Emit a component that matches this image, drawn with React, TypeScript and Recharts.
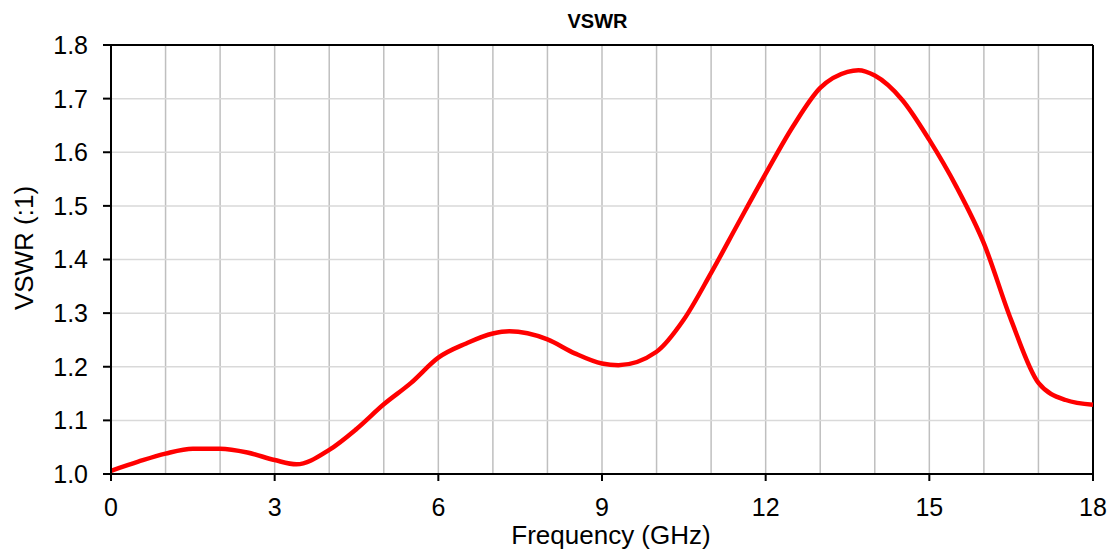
import React from "react";
import {
  LineChart,
  Line,
  XAxis,
  YAxis,
  CartesianGrid,
  ReferenceLine,
} from "recharts";

// frequency in GHz, VSWR
const freq = [
  0, 0.5, 1, 1.5, 2, 2.5, 3, 3.4, 4, 4.5, 5, 5.5, 6, 6.5, 7, 7.3, 8, 8.5, 9,
  9.3, 10, 10.5, 11, 11.5, 12, 12.5, 13, 13.5, 13.7, 14, 14.5, 15, 15.5, 16,
  16.5, 17, 17.5, 18,
];
const vswr = [
  1.006, 1.023, 1.038, 1.047, 1.047, 1.04, 1.026, 1.018, 1.045, 1.084, 1.13,
  1.17, 1.217, 1.243, 1.262, 1.266, 1.251, 1.225, 1.206, 1.203, 1.228, 1.288,
  1.375, 1.468, 1.56, 1.648, 1.72, 1.75, 1.753, 1.743, 1.698, 1.623, 1.535,
  1.43, 1.287, 1.17, 1.138, 1.129,
];

const xTicks = [0, 3, 6, 9, 12, 15, 18];
const xGrid = [0, 1, 2, 3, 4, 5, 6, 7, 8, 9, 10, 11, 12, 13, 14, 15, 16, 17, 18];
const yTicks = [1.0, 1.1, 1.2, 1.3, 1.4, 1.5, 1.6, 1.7, 1.8];

const data = freq.map((f, i) => ({ f, v: vswr[i] }));

const FONT = "'Liberation Sans', Arial, sans-serif";

export default function App() {
  return (
    <div style={{ position: "absolute", left: 0, top: 0, width: 1111, height: 550 }}>
      <div
        style={{
          position: "absolute",
          left: 0,
          top: 8,
          width: 1195,
          textAlign: "center",
          fontFamily: FONT,
          fontWeight: "bold",
          fontSize: 20,
          lineHeight: "26px",
        }}
      >
        VSWR
      </div>
      <LineChart
        width={1111}
        height={550}
        data={data}
        margin={{ top: 45, right: 18, bottom: 0, left: 0 }}
      >
        <XAxis xAxisId="grid" dataKey="f" type="number" domain={[0, 18]} ticks={xGrid} hide />
        <CartesianGrid
          xAxisId="grid"
          horizontal={false}
          stroke="#bfbfbf"
          strokeWidth={1.5}
          verticalValues={xGrid}
        />
        <CartesianGrid vertical={false} stroke="#d9d9d9" strokeWidth={1.5} />
        <XAxis
          dataKey="f"
          type="number"
          domain={[0, 18]}
          ticks={xTicks}
          height={76}
          tickSize={7}
          tickMargin={17}
          axisLine={{ stroke: "#000", strokeWidth: 2 }}
          tickLine={{ stroke: "#000", strokeWidth: 2 }}
          tick={{ fill: "#000", fontSize: 25, fontFamily: FONT }}
          label={{
            content: () => (
              <text
                x={611}
                y={544}
                textAnchor="middle"
                fontSize={26}
                fontFamily={FONT}
                fill="#000"
              >
                Frequency (GHz)
              </text>
            ),
          }}
        />
        <YAxis
          type="number"
          domain={[1.0, 1.8]}
          ticks={yTicks}
          width={111}
          tickSize={8}
          tickMargin={15}
          tickFormatter={(v: number) => v.toFixed(1)}
          axisLine={{ stroke: "#000", strokeWidth: 2 }}
          tickLine={{ stroke: "#000", strokeWidth: 2 }}
          tick={{ fill: "#000", fontSize: 25, fontFamily: FONT }}
          label={{
            content: () => (
              <text
                x={33}
                y={248}
                transform="rotate(-90 33 248)"
                textAnchor="middle"
                fontSize={26}
                fontFamily={FONT}
                fill="#000"
              >
                VSWR (:1)
              </text>
            ),
          }}
        />
        <ReferenceLine y={1.8} stroke="#000" strokeWidth={2} />
        <ReferenceLine x={18} stroke="#000" strokeWidth={2} />
        <Line
          type="monotone"
          dataKey="v"
          stroke="#ff0000"
          strokeWidth={4.5}
          dot={false}
          isAnimationActive={false}
        />
      </LineChart>
    </div>
  );
}
